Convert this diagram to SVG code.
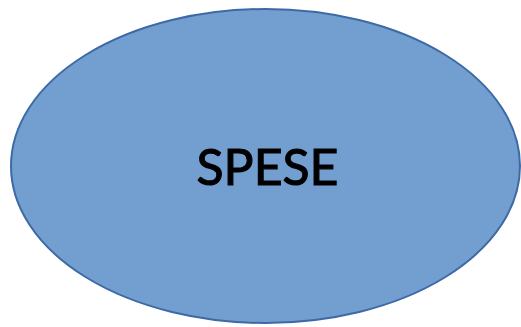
<svg xmlns="http://www.w3.org/2000/svg" width="521" height="327" viewBox="0 0 521 327">
<style>
.shape{fill:#729fcf;stroke:#3d6aa6;stroke-width:2}
.lbl{font-family:Lato,"Liberation Sans",sans-serif;font-size:51px;fill:#000;stroke:#000;stroke-width:1.1;text-anchor:middle}
</style>
<rect width="521" height="327" fill="#ffffff"/>
<g id="spese">
<ellipse class="shape" cx="265.5" cy="166" rx="254.5" ry="157"/>
<text class="lbl" x="267.5" y="185" textLength="142" lengthAdjust="spacingAndGlyphs">SPESE</text>
</g>
</svg>
